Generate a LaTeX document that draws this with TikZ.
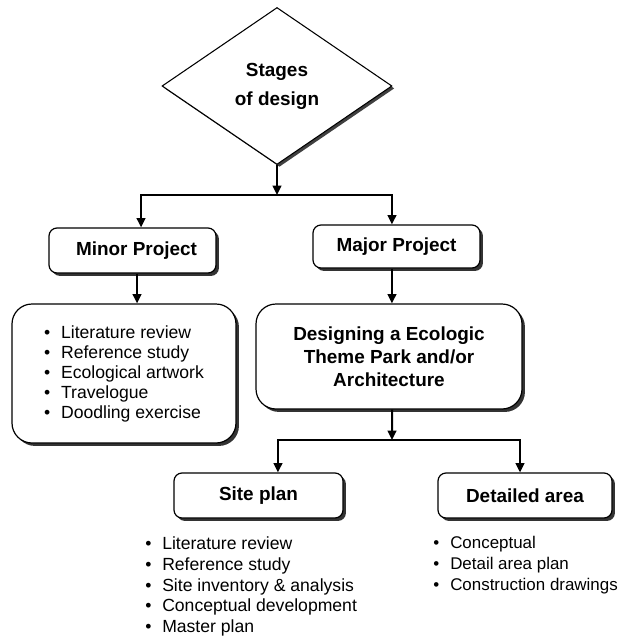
\documentclass[tikz,border=0pt]{standalone}
\usepackage{fontspec}
\setmainfont{Liberation Sans}
\usetikzlibrary{shapes.geometric,arrows.meta,shadows}
\tikzstyle{stage} = [draw,diamond,fill=white,line width=0.8pt,inner sep=0,minimum width=172.5pt,minimum height=117.75pt,align=center,font=\bfseries\fontsize{14.2}{21.75}\selectfont,drop shadow={shadow xshift=1.8pt,shadow yshift=-1.8pt,opacity=1,fill=black!75}]
\tikzstyle{box} = [draw,fill=white,line width=0.9pt,rounded corners=6pt,align=center,font=\bfseries\fontsize{14.2}{17.25}\selectfont,drop shadow={shadow xshift=2.2pt,shadow yshift=-2.2pt,opacity=1,fill=black!80}]
\tikzstyle{listbox} = [box,rounded corners=15pt,align=left,font=\fontsize{13.2}{15}\selectfont]
\tikzstyle{items} = [align=left,anchor=west,inner sep=0,font=\fontsize{13.2}{15.6}\selectfont]
\tikzstyle{link} = [-{Triangle[length=7pt,width=6.5pt]},line width=1.5pt]
\newcommand{\itm}{\makebox[12.75pt][l]{\textbullet}}

\begin{document}
\begin{tikzpicture}[x=0.75pt,y=-0.75pt]
      \useasboundingbox (0,0) rectangle (624,639);
      \node[stage] (stages) at (277,86) {Stages\\of design};
      \coordinate (split1) at (277,195);
      \node[box,minimum width=125.25pt,minimum height=33.75pt] (minor) at (132.5,250.5) {\hspace{6pt}Minor Project};
      \node[box,minimum width=125.25pt,minimum height=32.25pt] (major) at (396.5,246.5) {Major Project};
      \node[listbox,minimum width=168pt,minimum height=104.25pt] (minorlist) at (124,373.5)
        {\itm Literature review\\\itm Reference study\\\itm Ecological artwork\\\itm Travelogue\\\itm Doodling exercise};
      \node[box,rounded corners=15pt,minimum width=199.5pt,minimum height=78.75pt] (design) at (389,356.5)
        {Designing a Ecologic\\Theme Park and/or\\Architecture};
      \coordinate (split2) at (392,440);
      \node[box,minimum width=126.75pt,minimum height=33.75pt] (site) at (258.5,495.5) {Site plan};
      \node[box,minimum width=130.5pt,minimum height=33.75pt] (detail) at (525,495.5) {Detailed area};
      \node[items] (sitelist) at (145,586.5)
        {\itm Literature review\\\itm Reference study\\\itm Site inventory \& analysis\\\itm Conceptual development\\\itm Master plan};
      \node[items,font=\fontsize{12.7}{15.6}\selectfont] (detaillist) at (433,565)
        {\itm Conceptual\\\itm Detail area plan\\\itm Construction drawings};
      \draw[link] (stages.south) -- (split1);
      \draw[link] (split1) -| ([xshift=6.4pt]minor.north);
      \draw[link] (split1) -| ([xshift=-3.4pt]major.north);
      \draw[link] ([xshift=3.4pt]minor.south) -- ([xshift=3.4pt]minor.south |- minorlist.north);
      \draw[link] ([xshift=-3.4pt]major.south) -- ([xshift=-3.4pt]major.south |- design.north);
      \draw[link] ([xshift=2.3pt]design.south) -- (split2);
      \draw[link] (split2) -| ([xshift=14.6pt]site.north);
      \draw[link] (split2) -| ([xshift=-3.75pt]detail.north);
\end{tikzpicture}
\end{document}
